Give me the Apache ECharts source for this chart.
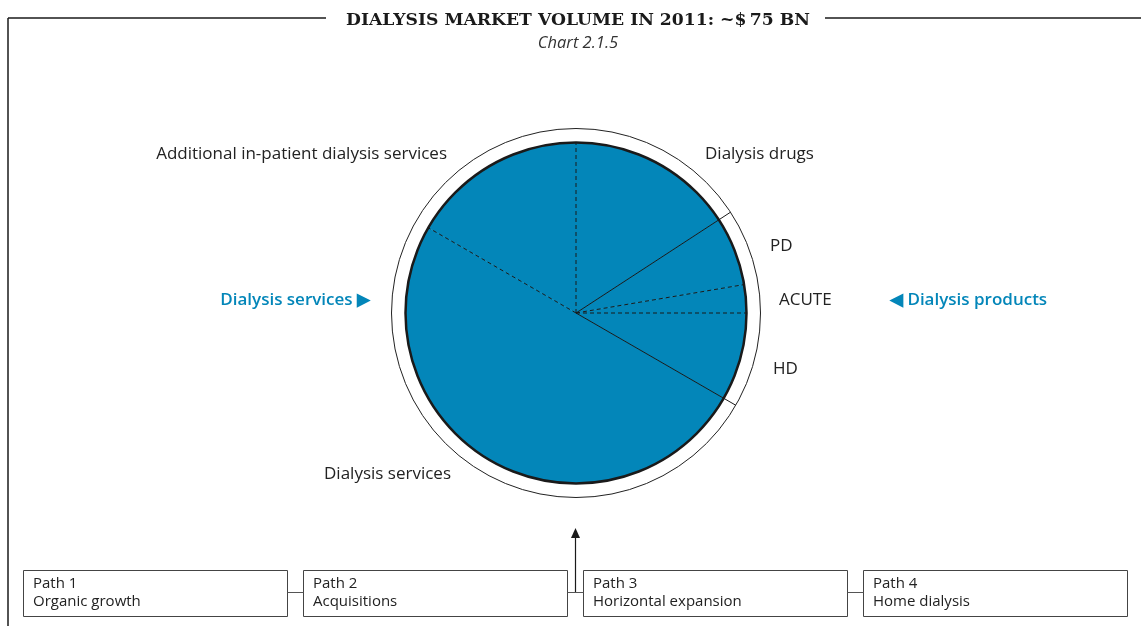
<!DOCTYPE html>
<html><head><meta charset="utf-8">
<script src="https://cdn.jsdelivr.net/npm/echarts@6/dist/echarts.min.js"></script>
<style>html,body{margin:0;padding:0;background:#fff}#c{width:1141px;height:626px}</style>
</head><body><div id="c"></div>
<script>
// ---- data ----
const categories = ['Dialysis drugs', 'PD', 'ACUTE', 'HD', 'Dialysis services', 'Additional in-patient dialysis services'];
const values = [11.85, 4.9, 2.0, 6.25, 37.5, 12.5]; // $ bn (total ~75)
const segmentGroup = ['services', 'products', 'products', 'products', 'services', 'services'];
const groupLabels = ['Dialysis services \u25B6', '\u25C0 Dialysis products'];
const pathNumbers = ['Path 1', 'Path 2', 'Path 3', 'Path 4'];
const pathNames = ['Organic growth', 'Acquisitions', 'Horizontal expansion', 'Home dialysis'];
const titleText = 'DIALYSIS MARKET VOLUME IN 2011: ~$\u200975 BN';
const subTitleText = 'Chart 2.1.5';

// ---- layout / style ----
const CX = 576, CY = 313, R_IN = 170.5, R_OUT = 184.5;
const INNER = R_IN / R_OUT;
const BLUE = '#0386b9';
const INK = '#1a1a1a';
const FONT = '"Open Sans", "Noto Sans", sans-serif';
const labelPos = [
  { x: 705, y: 154, align: 'left' },
  { x: 770, y: 246, align: 'left' },
  { x: 779, y: 300, align: 'left' },
  { x: 773, y: 369, align: 'left' },
  { x: 451, y: 474, align: 'right' },
  { x: 447, y: 154, align: 'right' }
];

const total = values.reduce((a, b) => a + b, 0);
const starts = []; let acc = 0;
values.forEach(v => { starts.push(acc); acc += v; });

const sepSeries = starts.map((a, i) => {
  const prev = (i + values.length - 1) % values.length;
  const solid = segmentGroup[prev] !== segmentGroup[i];
  return {
    type: 'line', coordinateSystem: 'polar', polarIndex: 0,
    data: [[0, a], [solid ? 1 : INNER, a]],
    symbol: 'none', silent: true, animation: false, z: 10, clip: false,
    lineStyle: { color: INK, width: 1, type: solid ? 'solid' : [4, 3] }
  };
});

const graphics = [];
// frame
graphics.push({ type: 'line', shape: { x1: 8, y1: 18, x2: 326, y2: 18 }, style: { stroke: INK, lineWidth: 1.5 } });
graphics.push({ type: 'line', shape: { x1: 825, y1: 18, x2: 1141, y2: 18 }, style: { stroke: INK, lineWidth: 1.5 } });
graphics.push({ type: 'line', shape: { x1: 8, y1: 18, x2: 8, y2: 626 }, style: { stroke: INK, lineWidth: 1.5 } });
// group labels
graphics.push({ type: 'text', x: 370, y: 300, style: { text: groupLabels[0], fill: BLUE, font: '600 17px ' + FONT, align: 'right', verticalAlign: 'middle' } });
graphics.push({ type: 'text', x: 890, y: 300, style: { text: groupLabels[1], fill: BLUE, font: '600 17px ' + FONT, align: 'left', verticalAlign: 'middle' } });
// path boxes
const boxX = [23.5, 303.5, 583.5, 863.5], boxW = 264, boxY = 570.5, boxH = 46;
pathNumbers.forEach((p, i) => {
  graphics.push({ type: 'rect', shape: { x: boxX[i], y: boxY, width: boxW, height: boxH }, style: { fill: '#fff', stroke: '#444', lineWidth: 1 } });
  graphics.push({ type: 'text', x: boxX[i] + 9.5, y: 584, style: { text: p, fill: '#222', font: '15px ' + FONT, verticalAlign: 'middle' } });
  graphics.push({ type: 'text', x: boxX[i] + 9.5, y: 602, style: { text: pathNames[i], fill: '#222', font: '15px ' + FONT, verticalAlign: 'middle' } });
  if (i > 0) {
    graphics.push({ type: 'line', shape: { x1: boxX[i - 1] + boxW, y1: 592.5, x2: boxX[i], y2: 592.5 }, style: { stroke: '#555', lineWidth: 1 } });
  }
});
// arrow
graphics.push({ type: 'line', shape: { x1: 575.5, y1: 592, x2: 575.5, y2: 536 }, style: { stroke: INK, lineWidth: 1.2 } });
graphics.push({ type: 'polygon', shape: { points: [[575.5, 528], [571, 538], [580, 538]] }, style: { fill: INK } });

const option = {
  animation: false,
  backgroundColor: '#fff',
  title: {
    text: titleText, subtext: subTitleText,
    left: 573, top: 7, textAlign: 'center', itemGap: 6,
    textStyle: { fontFamily: '"DejaVu Serif", serif', fontWeight: 'bold', fontSize: 17.2, color: INK },
    subtextStyle: { fontFamily: FONT, fontStyle: 'italic', fontSize: 16.5, color: '#333' }
  },
  polar: { center: [CX, CY], radius: R_OUT },
  angleAxis: { type: 'value', min: 0, max: total, startAngle: 90, clockwise: true, show: false,
    axisLine: { show: false }, splitLine: { show: false }, axisTick: { show: false }, axisLabel: { show: false } },
  radiusAxis: { type: 'value', min: 0, max: 1, show: false,
    axisLine: { show: false }, splitLine: { show: false }, axisTick: { show: false }, axisLabel: { show: false } },
  series: [
    { type: 'pie', center: [CX, CY], radius: R_OUT, silent: true, z: 1, label: { show: false }, labelLine: { show: false },
      data: [{ value: total, name: 'ring' }], itemStyle: { color: '#fff', borderColor: '#222', borderWidth: 1 } },
    { type: 'pie', center: [CX, CY], radius: R_IN, startAngle: 90, clockwise: true, silent: true, z: 2,
      avoidLabelOverlap: false,
      data: categories.map((c, i) => ({ name: c, value: values[i] })),
      itemStyle: { color: BLUE, borderColor: BLUE, borderWidth: 0.5 },
      label: { show: true, position: 'outside', formatter: '{b}', color: '#222', fontFamily: FONT, fontSize: 17 },
      labelLine: { show: false },
      labelLayout: p => Object.assign({ verticalAlign: 'middle' }, labelPos[p.dataIndex]),
      emphasis: { disabled: true } },
    { type: 'pie', center: [CX, CY], radius: R_IN, silent: true, z: 5, label: { show: false }, labelLine: { show: false },
      data: [{ value: total, name: 'outline' }], itemStyle: { color: 'rgba(0,0,0,0)', borderColor: INK, borderWidth: 2.5 } },
    ...sepSeries
  ],
  graphic: graphics
};
const chart = echarts.init(document.getElementById('c'), null, { renderer: 'canvas' });
chart.setOption(option);
</script>
</body></html>
